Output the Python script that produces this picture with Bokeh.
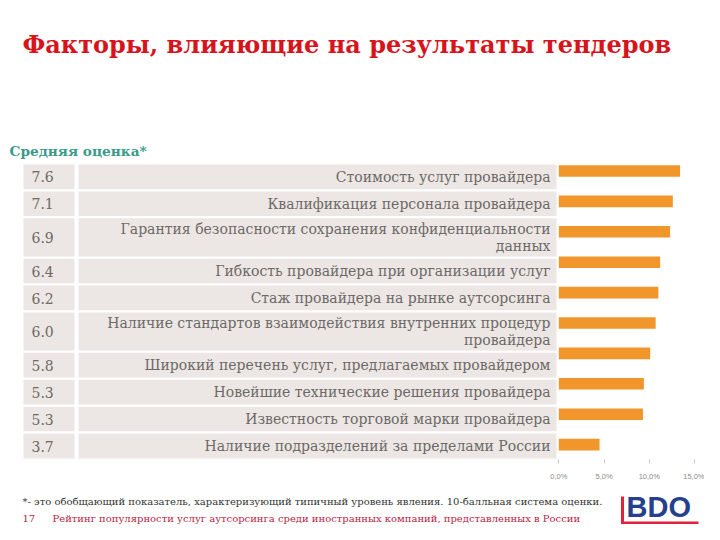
from bokeh.plotting import figure
from bokeh.layouts import column
from bokeh.models import Range1d, FixedTicker, ColumnDataSource
from bokeh.core.properties import value
from bokeh.embed import file_html
from bokeh.resources import INLINE

# ---------------- data ----------------
title_text = "Факторы, влияющие на результаты тендеров"
subtitle_text = "Средняя оценка*"
factors = [
    "Стоимость услуг провайдера",
    "Квалификация персонала провайдера",
    "Гарантия безопасности сохранения конфиденциальности\nданных",
    "Гибкость провайдера при организации услуг",
    "Стаж провайдера на рынке аутсорсинга",
    "Наличие стандартов взаимодействия внутренних процедур\nпровайдера",
    "Широкий перечень услуг, предлагаемых провайдером",
    "Новейшие технические решения провайдера",
    "Известность торговой марки провайдера",
    "Наличие подразделений за пределами России",
]
scores = ["7.6", "7.1", "6.9", "6.4", "6.2", "6.0", "5.8", "5.3", "5.3", "3.7"]
shares = [13.4, 12.6, 12.3, 11.2, 11.0, 10.7, 10.1, 9.4, 9.3, 4.5]
tick_values = [0, 5, 10, 15]
tick_labels = ["0,0%", "5,0%", "10,0%", "15,0%"]
footnote_text = "*- это обобщающий показатель, характеризующий типичный уровень явления. 10-балльная система оценки."
page_number = "17"
footer_text = "Рейтинг популярности услуг аутсорсинга среди иностранных компаний, представленных в России"
logo_text = "BDO"

# ---------------- layout constants (page pixels) ----------------
W, H = 704, 524
TOP_H = 163                  # header strip
FR_H = 296                   # table/chart frame height
AX_H = 27                    # space for the axis below the frame
BOT_H = H - TOP_H - FR_H - AX_H
TBL_L, NUM_R, LAB_L, TBL_R = 22, 75, 77, 557
ZERO_X = 558.3               # x of 0 %
PX_PER_PCT = 9.05
BAR_Y0, BAR_DY = 7.5, 30.4   # first bar centre (from frame top), bar spacing

GRAY = "#ece7e4"
TXT = "#6d6967"
ORANGE = "#f0962b"
SERIF = "DejaVu Serif"


def blank(h):
    f = figure(width=W, height=h, output_backend="svg", toolbar_location=None,
               x_range=Range1d(0, W), y_range=Range1d(h, 0),
               x_axis_location=None, y_axis_location=None,
               min_border=0)
    f.outline_line_color = None
    f.grid.visible = False
    return f


# ---------------- header ----------------
top = blank(TOP_H)
top.text(x=[22], y=[44], text=[title_text], text_font=value(SERIF),
         text_font_style="bold", text_font_size="24px", text_color="#d7141c",
         text_baseline="middle")
top.text(x=[9], y=[150], text=[subtitle_text], text_font=value(SERIF),
         text_font_style="bold", text_font_size="13.7px", text_color="#3a9a8a",
         text_baseline="middle")

# ---------------- table + bars ----------------
n = len(factors)
p = figure(width=W, height=FR_H + AX_H, output_backend="svg", toolbar_location=None,
           x_range=Range1d(-ZERO_X / PX_PER_PCT, (W - ZERO_X) / PX_PER_PCT),
           y_range=Range1d(FR_H, 0), y_axis_location=None,
           min_border_left=0, min_border_right=0,
           min_border_top=0, min_border_bottom=AX_H)
p.extra_x_ranges = {"px": Range1d(0, W)}
p.extra_y_ranges = {"bars": Range1d((FR_H - BAR_Y0) / BAR_DY, -BAR_Y0 / BAR_DY)}
p.outline_line_color = None
p.grid.visible = False

lines = [f.count("\n") + 1 for f in factors]
units = [1.0 if k == 1 else 1.5 for k in lines]
unit_h = FR_H / sum(units)
tops, bots = [], []
y = 0.0
for u in units:
    tops.append(y)
    y += u * unit_h
    bots.append(y)
mids = [(a + b) / 2 for a, b in zip(tops, bots)]
hs = [b - a for a, b in zip(tops, bots)]

tbl = ColumnDataSource(dict(y=mids, h=hs, lab=factors, sc=scores))
p.rect(x=(TBL_L + NUM_R) / 2, y="y", width=NUM_R - TBL_L, height="h", source=tbl,
       x_range_name="px", fill_color=GRAY, line_color="white", line_width=2)
p.rect(x=(LAB_L + TBL_R) / 2, y="y", width=TBL_R - LAB_L, height="h", source=tbl,
       x_range_name="px", fill_color=GRAY, line_color="white", line_width=2)
p.text(x=TBL_L + 9, y="y", text="sc", source=tbl, x_range_name="px",
       text_font=value(SERIF), text_font_size="14px", text_color=TXT,
       text_align="left", text_baseline="middle")
p.text(x=TBL_R - 7, y="y", text="lab", source=tbl, x_range_name="px",
       text_font=value(SERIF), text_font_size="14px", text_color=TXT,
       text_align="right", text_baseline="middle", text_line_height=1.05)

bars = ColumnDataSource(dict(idx=list(range(n)), v=shares))
p.hbar(y="idx", left=0, right="v", height=0.38, source=bars,
       y_range_name="bars", fill_color=ORANGE, line_color=None)

ax = p.xaxis[0]
ax.ticker = FixedTicker(ticks=tick_values)
ax.major_label_overrides = {t: l for t, l in zip(tick_values, tick_labels)}
ax.axis_line_color = None
ax.major_tick_line_color = "#c8c8c8"
ax.major_tick_in = 0
ax.major_tick_out = 4
ax.minor_tick_line_color = None
ax.major_label_text_font = "Liberation Sans"
ax.major_label_text_font_size = "7.5px"
ax.major_label_text_color = "#8a8a8a"
ax.major_label_standoff = 8

# ---------------- footer ----------------
bot = blank(BOT_H)
bot.text(x=[22], y=[15], text=[footnote_text], text_font=value(SERIF),
         text_font_size="10px", text_color="#333333", text_baseline="middle")
bot.text(x=[22, 52], y=[32, 32], text=[page_number, footer_text], text_font=value(SERIF),
         text_font_size="10px", text_color="#b81e45", text_baseline="middle")
bot.text(x=[626], y=[20], text=[logo_text], text_font=value("Liberation Sans"),
         text_font_style="bold", text_font_size="29px", text_color="#27408b",
         text_baseline="middle")
bot.quad(left=[620.5, 620.5], right=[623.5, 698], top=[10, 35], bottom=[38, 38],
         fill_color="#e0233c", line_color=None)

layout = column(top, p, bot, spacing=0)
open("out.html", "w").write(file_html(layout, INLINE))
